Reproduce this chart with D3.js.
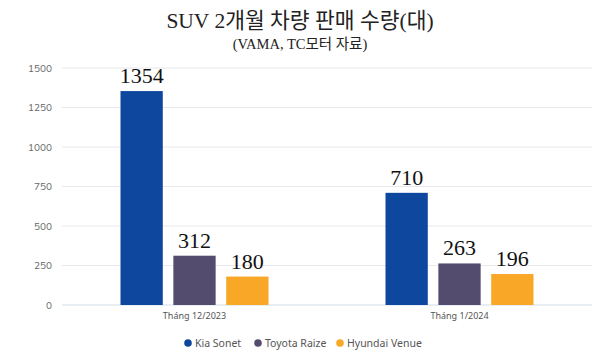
<!DOCTYPE html>
<html><head><meta charset="utf-8">
<script src="https://cdn.jsdelivr.net/npm/d3@7"></script>
<style>body{margin:0;background:#fff}svg{display:block}</style>
</head><body>
<svg id="c" width="600" height="354"></svg>
<script>
const categories = ["Tháng 12/2023", "Tháng 1/2024"];
const seriesNames = ["Kia Sonet", "Toyota Raize", "Hyundai Venue"];
const seriesColors = ["#0e479e", "#544c6f", "#f9a727"];
const kiaSonet = [1354, 710];
const toyotaRaize = [312, 263];
const hyundaiVenue = [180, 196];
const yTicks = [0, 250, 500, 750, 1000, 1250, 1500];
const title = "SUV 2개월 차량 판매 수량(대)";
const subtitle = "(VAMA, TC모터 자료)";

const values = [kiaSonet, toyotaRaize, hyundaiVenue];
const svg = d3.select("#c");
const m = {l: 62, r: 8, t: 68, b: 49};
const W = 600, H = 354;
const x0 = d3.scaleBand().domain(categories).range([m.l, W - m.r]);
const x1 = d3.scaleBand().domain(seriesNames).range([0, 148]).paddingInner(0.2).paddingOuter(0);
const y = d3.scaleLinear().domain([0, 1500]).range([H - m.b, m.t]);

svg.append("text").attr("x", 300).attr("y", 28).attr("text-anchor", "middle")
  .attr("font-family", "'Liberation Serif','Noto Sans CJK KR',serif").attr("font-size", 21.5).attr("fill", "#222").text(title);
svg.append("text").attr("x", 300).attr("y", 49).attr("text-anchor", "middle")
  .attr("font-family", "'Liberation Serif','Noto Sans CJK KR',serif").attr("font-size", 14.5).attr("fill", "#222").text(subtitle);

// grid
svg.append("g").selectAll("line").data(yTicks.filter(d => d > 0)).join("line")
  .attr("x1", m.l).attr("x2", W - m.r).attr("y1", d => y(d)).attr("y2", d => y(d))
  .attr("stroke", "#e8e8ee").attr("stroke-width", 1);
svg.append("line").attr("x1", m.l).attr("x2", W - m.r).attr("y1", y(0)).attr("y2", y(0))
  .attr("stroke", "#d3dcea").attr("stroke-width", 1);

const yAxis = svg.append("g").attr("transform", `translate(${m.l},0)`)
  .call(d3.axisLeft(y).tickValues(yTicks).tickFormat(d3.format("d")).tickSize(0).tickPadding(10));
yAxis.select(".domain").remove();
yAxis.selectAll("text").attr("font-family", "Nunito,'Noto Sans',sans-serif").attr("font-size", 10).attr("fill", "#666");

const xAxis = svg.append("g").attr("transform", `translate(0,${y(0)})`)
  .call(d3.axisBottom(x0).tickSize(0).tickPadding(8));
xAxis.select(".domain").remove();
xAxis.selectAll("text").attr("font-family", "'Noto Sans',sans-serif").attr("font-size", 9).attr("fill", "#555");

const groups = svg.append("g").selectAll("g").data(categories).join("g")
  .attr("transform", c => `translate(${x0(c) + x0.bandwidth() / 2 - 74},0)`);
groups.each(function(c, ci) {
  const g = d3.select(this);
  seriesNames.forEach((s, si) => {
    const v = values[si][ci];
    g.append("rect").attr("x", x1(s)).attr("width", x1.bandwidth())
      .attr("y", y(v)).attr("height", y(0) - y(v)).attr("fill", seriesColors[si]);
    g.append("text").attr("x", x1(s) + x1.bandwidth() / 2).attr("y", y(v) - 8)
      .attr("text-anchor", "middle").attr("font-family", "'Liberation Serif',serif")
      .attr("font-size", 22).attr("fill", "#111").text(v);
  });
});

// legend
const legX = [188, 258, 340];
const leg = svg.append("g");
seriesNames.forEach((s, i) => {
  leg.append("circle").attr("cx", legX[i]).attr("cy", 343).attr("r", 3.8).attr("fill", seriesColors[i]);
  leg.append("text").attr("x", legX[i] + 7).attr("y", 347).attr("font-family", "'Noto Sans',sans-serif")
    .attr("font-size", 10.5).attr("fill", "#555").text(s);
});
</script>
</body></html>
